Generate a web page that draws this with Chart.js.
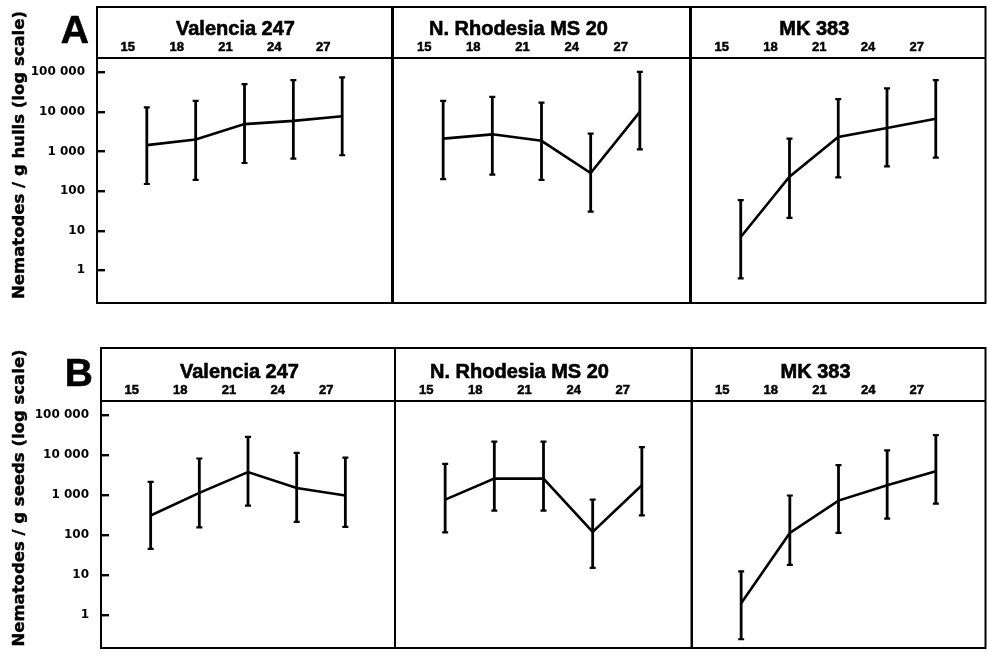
<!DOCTYPE html>
<html>
<head>
<meta charset="utf-8">
<script src="https://cdn.jsdelivr.net/npm/chart.js@4.4.1/dist/chart.umd.min.js"></script>
<style>
  html, body { margin: 0; padding: 0; background: #fff; }
  #wrap { position: relative; width: 987px; height: 660px; overflow: hidden; background: #fff; }
  .panel { position: absolute; }
</style>
</head>
<body>
<div id="wrap"></div>
<script>
// temperatures on the top axis
const temps = ['15', '18', '21', '24', '27'];
const yTickValues = [1, 10, 100, 1000, 10000, 100000];
const cultivars = ['Valencia 247', 'N. Rhodesia MS 20', 'MK 383'];

// A - nematodes per g hulls
const hullsValenciaMean = [1440, 2000, 4900, 5900, 7700];
const hullsValenciaLow  = [150, 190, 510, 660, 800];
const hullsValenciaHigh = [13000, 19000, 50000, 63000, 74000];

const hullsRhodesiaMean = [2100, 2700, 1850, 285, 10000];
const hullsRhodesiaLow  = [200, 260, 190, 30, 1120];
const hullsRhodesiaHigh = [19000, 24000, 17000, 2800, 102000];

const hullsMkMean = [6.9, 230, 2300, 3900, 6700];
const hullsMkLow  = [0.62, 21, 220, 420, 700];
const hullsMkHigh = [59, 2100, 21000, 39000, 63000];

// B - nematodes per g seeds
const seedsValenciaMean = [310, 1140, 3780, 1520, 980];
const seedsValenciaLow  = [45, 156, 550, 213, 160];
const seedsValenciaHigh = [2150, 8300, 29000, 11500, 8700];

const seedsRhodesiaMean = [775, 2600, 2600, 120, 1770];
const seedsRhodesiaLow  = [117, 410, 410, 15, 310];
const seedsRhodesiaHigh = [6100, 22000, 22000, 775, 16000];

const seedsMkMean = [1.96, 113, 730, 1770, 4000];
const seedsMkLow  = [0.245, 18, 113, 258, 615];
const seedsMkHigh = [12.3, 980, 5650, 13200, 32000];

const rows = [
  { letter: 'A', yTitle: 'Nematodes / g hulls (log scale)', top: 0, height: 310, chartTop: 58, header: 51, yWidth: 97,
    series: [[hullsValenciaMean, hullsValenciaLow, hullsValenciaHigh],
             [hullsRhodesiaMean, hullsRhodesiaLow, hullsRhodesiaHigh],
             [hullsMkMean, hullsMkLow, hullsMkHigh]],
    cols: [{ left: 0, width: 400, padL: 0, padR: 8, titleShift: -9 },
           { left: 387, width: 310, padL: 6, padR: 7, titleShift: -23 },
           { left: 684, width: 303, padL: 7, padR: 1.5, titleShift: -24 }] },
  { letter: 'B', yTitle: 'Nematodes / g seeds (log scale)', top: 341, height: 314, chartTop: 60, header: 53, yWidth: 101,
    series: [[seedsValenciaMean, seedsValenciaLow, seedsValenciaHigh],
             [seedsRhodesiaMean, seedsRhodesiaLow, seedsRhodesiaHigh],
             [seedsMkMean, seedsMkLow, seedsMkHigh]],
    cols: [{ left: 0, width: 400, padL: 0, padR: 5, titleShift: -8.5 },
           { left: 389, width: 310, padL: 6, padR: 7, titleShift: -24 },
           { left: 684, width: 303, padL: 7.5, padR: 1.5, titleShift: -23 }] }
];

function fmtThousands(v) {
  return String(v).replace(/\B(?=(\d{3})+(?!\d))/g, ' ');
}

// frame, header, panel title, row letter, y title, inward ticks and error bars
const panelDecor = {
  id: 'panelDecor',
  afterDatasetsDraw(chart) {
    const ds = chart.data.datasets[0];
    const x = chart.scales.x, y = chart.scales.y;
    const ctx = chart.ctx;
    ctx.save();
    ctx.strokeStyle = '#000';
    ds.lows.forEach((lo, i) => {
      const px = x.getPixelForValue(i);
      const y1 = y.getPixelForValue(lo);
      const y2 = y.getPixelForValue(ds.highs[i]);
      ctx.lineWidth = 2.8;
      ctx.beginPath();
      ctx.moveTo(px, y1);
      ctx.lineTo(px, y2);
      ctx.stroke();
      ctx.lineWidth = 2.2;
      ctx.beginPath();
      ctx.moveTo(px - 3, y1); ctx.lineTo(px + 3, y1);
      ctx.moveTo(px - 3, y2); ctx.lineTo(px + 3, y2);
      ctx.stroke();
    });
    ctx.restore();
  },
  afterDraw(chart, args, opts) {
    const ctx = chart.ctx;
    const a = chart.chartArea;
    const y = chart.scales.y;
    const boxTop = a.top - opts.header;
    ctx.save();
    ctx.strokeStyle = '#000';
    ctx.fillStyle = '#000';
    ctx.lineWidth = 2;
    ctx.strokeRect(a.left, boxTop, a.right - a.left, a.bottom - boxTop);
    ctx.beginPath();
    ctx.moveTo(a.left, a.top);
    ctx.lineTo(a.right, a.top);
    ctx.stroke();

    if (opts.letter) {
      // short tick marks on the inside of the left edge
      yTickValues.forEach(v => {
        const py = Math.round(y.getPixelForValue(v));
        ctx.fillRect(a.left, py - 1, 8, 2.4);
      });
    }

    ctx.lineWidth = 0.6;
    ctx.textAlign = 'center';
    ctx.textBaseline = 'alphabetic';
    ctx.font = 'bold 20px "Liberation Sans", Arial, sans-serif';
    const tx = (a.left + a.right) / 2 + opts.shift;
    ctx.fillText(opts.title, tx, a.top - 23.5);
    ctx.strokeText(opts.title, tx, a.top - 23.5);

    if (opts.letter) {
      ctx.textAlign = 'right';
      ctx.font = 'bold 39px "Liberation Sans", Arial, sans-serif';
      ctx.fillText(opts.letter, a.left - 8, a.top - 15);
      ctx.strokeText(opts.letter, a.left - 8, a.top - 15);

      ctx.translate(20, (boxTop + a.bottom) / 2);
      ctx.rotate(-Math.PI / 2);
      ctx.textAlign = 'center';
      ctx.textBaseline = 'middle';
      ctx.font = 'bold 16.5px "DejaVu Sans", sans-serif';
      ctx.fillText(opts.yTitle, 0, 0);
      ctx.lineWidth = 0.4;
      ctx.strokeText(opts.yTitle, 0, 0);
    }
    ctx.restore();
  }
};

const wrap = document.getElementById('wrap');

rows.forEach(row => {
  row.cols.forEach((col, c) => {
    const div = document.createElement('div');
    div.className = 'panel';
    div.style.left = col.left + 'px';
    div.style.top = row.top + 'px';
    div.style.width = col.width + 'px';
    div.style.height = row.height + 'px';
    const canvas = document.createElement('canvas');
    div.appendChild(canvas);
    wrap.appendChild(div);

    const [means, lows, highs] = row.series[c];
    const first = c === 0;

    new Chart(canvas, {
      type: 'line',
      data: {
        datasets: [{
          data: means.map((v, i) => ({ x: i, y: v })),
          lows: lows,
          highs: highs,
          borderColor: '#000',
          borderWidth: 2.6,
          pointRadius: 0,
          tension: 0,
          fill: false
        }]
      },
      options: {
        responsive: true,
        maintainAspectRatio: false,
        animation: false,
        layout: {
          padding: { top: row.chartTop - 20, bottom: 7, left: col.padL, right: col.padR }
        },
        plugins: {
          legend: { display: false },
          tooltip: { enabled: false },
          panelDecor: {
            header: row.header,
            title: cultivars[c],
            shift: col.titleShift,
            letter: first ? row.letter : null,
            yTitle: row.yTitle
          }
        },
        scales: {
          x: {
            type: 'linear',
            position: 'top',
            min: -1.02,
            max: 5.02,
            afterBuildTicks: s => { s.ticks = temps.map((t, i) => ({ value: i })); },
            afterFit: s => { s.height = 20; s.paddingLeft = 0; s.paddingRight = 0; },
            grid: { display: false, drawTicks: false },
            border: { display: false },
            ticks: {
              autoSkip: false,
              maxRotation: 0,
              labelOffset: -19,
              padding: 3,
              color: '#000',
              textStrokeColor: '#000',
              textStrokeWidth: 0.5,
              font: { family: '"Liberation Sans", Arial, sans-serif', weight: 'bold', size: 13 },
              callback: v => temps[v]
            }
          },
          y: {
            type: 'logarithmic',
            display: first,
            min: 0.148,
            max: 229000,
            afterBuildTicks: s => { s.ticks = yTickValues.map(v => ({ value: v })); },
            afterFit: s => {
              s.width = first ? row.yWidth : 0;
              s.paddingTop = 0;
              s.paddingBottom = 0;
            },
            grid: { display: false, drawTicks: false },
            border: { display: false },
            ticks: {
              autoSkip: false,
              padding: 12,
              color: '#000',
              font: { family: '"DejaVu Sans", sans-serif', weight: 'bold', size: 12 },
              callback: v => fmtThousands(v)
            }
          }
        }
      },
      plugins: [panelDecor]
    });
  });
});
</script>
</body>
</html>
